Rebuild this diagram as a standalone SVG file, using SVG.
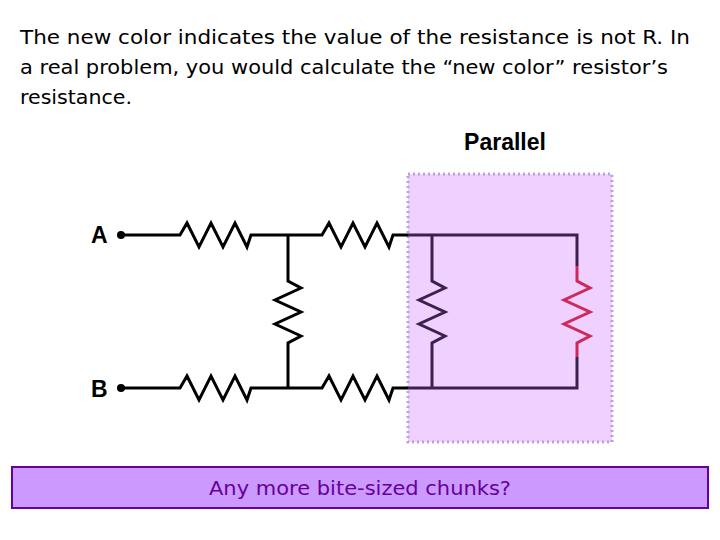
<svg xmlns="http://www.w3.org/2000/svg" width="720" height="540" viewBox="0 0 720 540">
<style>
.t{font-family:"DejaVu Sans",Tahoma,sans-serif;font-size:20px;fill:#000}
.w{fill:none;stroke:#000;stroke-width:3;stroke-linejoin:miter}
.p{fill:none;stroke:#3d1f50;stroke-width:3}
.r{fill:none;stroke:#cc2a5a;stroke-width:3}
.lbl{font-family:"Liberation Sans",Arial,sans-serif;font-weight:bold;font-size:23px}
</style>
<rect width="720" height="540" fill="#fff"/>
<g id="intro">
<text class="t" x="20" y="44" textLength="670" lengthAdjust="spacingAndGlyphs">The new color indicates the value of the resistance is not R.  In</text>
<text class="t" x="20" y="74" textLength="648" lengthAdjust="spacingAndGlyphs">a real problem, you would calculate the “new color” resistor’s</text>
<text class="t" x="20" y="104" textLength="112" lengthAdjust="spacingAndGlyphs">resistance.</text>
</g>
<g id="title"><text class="lbl" x="505" y="150" text-anchor="middle">Parallel</text></g>
<g id="parallel-box"><rect x="408" y="174" width="204" height="268" fill="#f0d0ff" stroke="#b9a0e0" stroke-width="3" stroke-dasharray="2,3"/></g>
<g id="connectors">
<path class="w" d="M121 235H180l7-12 12 24 12-24 12 24 12-24 12 24 4-12H322l7-12 12 24 12-24 12 24 12-24 12 24 4-12H408"/>
<path class="w" d="M121 388H180l7-12 12 24 12-24 12 24 12-24 12 24 4-12H322l7-12 12 24 12-24 12 24 12-24 12 24 4-12H408"/>
<path class="w" d="M288 235V281l13 7-26 12 26 12-26 12 26 12-13 7V388"/>
<path class="p" d="M408 235H577V266M577 357V388H408M432 235V281l13 7-26 12 26 12-26 12 26 12-13 7V388"/>
<path class="r" d="M577 266V281l13 7-26 12 26 12-26 12 26 12-13 7V357"/>
</g>
<g id="A"><circle cx="121" cy="235" r="4"/><text class="lbl" x="91" y="243">A</text></g>
<g id="B"><circle cx="121" cy="388" r="4"/><text class="lbl" x="91" y="397">B</text></g>
<g id="footer">
<rect x="12" y="467" width="696" height="41" fill="#cc99ff" stroke="#660099" stroke-width="2"/>
<text x="360" y="495" text-anchor="middle" font-family="DejaVu Sans,Tahoma,sans-serif" font-size="20" fill="#660099" textLength="302" lengthAdjust="spacingAndGlyphs">Any more bite-sized chunks?</text>
</g>
</svg>
